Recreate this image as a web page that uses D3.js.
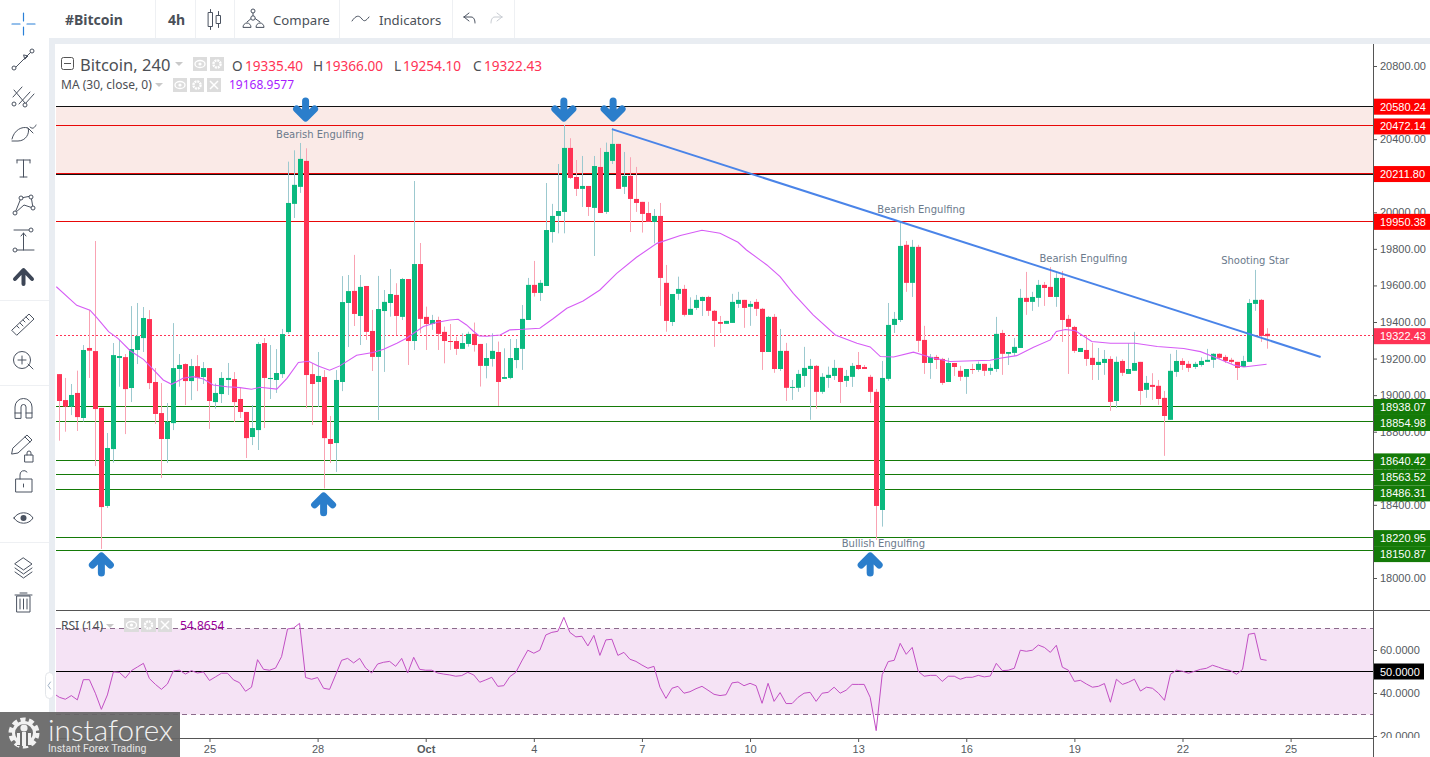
<!DOCTYPE html>
<html>
<head>
<meta charset="utf-8">
<script src="https://cdn.jsdelivr.net/npm/d3@7"></script>
<style>
  html, body { margin: 0; padding: 0; background: #fff; overflow: hidden; }
  svg { display: block; }
  text { font-family: "Liberation Sans", Arial, sans-serif; }
</style>
</head>
<body>
<svg id="chart" width="1430" height="757"></svg>
<script>
// bougies 4h (index 0 = premiere bougie visible)
const open = [
  19115,18973,18937,19012,18875,19258,19241,18930,18394,18705,
  19203,19208,19039,19247,19312,19416,19072,18902,18760,18847,
  19143,19170,19077,19159,19099,19148,18962,19006,19083,19088,
  18979,18908,18771,18809,19285,19088,19083,19115,19345,20046,
  20139,20281,19115,19072,19099,18760,18738,19072,19504,19570,
  19433,19597,19351,19209,19460,19504,19548,19428,19635,19296,
  19717,19428,19389,19411,19346,19296,19296,19253,19280,19335,
  19280,19160,19198,19236,19089,19094,19192,19253,19411,19603,
  19559,19597,19892,19980,20002,20352,20193,20128,20144,20024,
  20248,20002,20281,20374,20139,20199,20073,20057,19996,19947,
  19980,19614,19400,19554,19581,19439,19477,19515,19537,19461,
  19400,19390,19395,19499,19521,19483,19510,19472,19236,19428,
  19143,19242,19040,19040,19105,19143,19160,19018,19094,19105,
  19149,19078,19100,19165,19154,19100,19018,18372,19089,19384,
  19411,19822,19614,19811,19302,19176,19209,19198,19072,19176,
  19133,19100,19143,19138,19171,19133,19143,19340,19226,19231,
  19258,19532,19510,19532,19603,19592,19537,19641,19417,19373,
  19236,19247,19204,19165,19176,19198,18968,19187,19116,19133,
  19182,19029,19056,19051,18985,18865,19127,19187,19171,19154,
  19165,19182,19193,19226,19209,19193,19182,19154,19182,19499,
  19521,19335.40
]
const close = [
  18968,18937,19001,18880,19247,19243,18924,18388,18711,19219,
  19214,19033,19252,19323,19422,19066,18897,18760,18855,19148,
  19165,19077,19159,19094,19148,18968,19012,19094,19094,18962,
  18908,18765,18820,19280,19094,19094,19121,19334,20051,20150,
  20292,19110,19061,19105,18765,18733,19083,19509,19569,19444,
  19592,19346,19209,19471,19510,19553,19433,19635,19296,19717,
  19417,19389,19411,19335,19296,19291,19253,19285,19335,19274,
  19160,19203,19242,19072,19099,19203,19258,19417,19603,19559,
  19614,19903,19980,20007,20352,20188,20128,20144,20029,20253,
  19996,20330,20374,20128,20199,20073,20051,19991,19947,19980,
  19641,19406,19553,19581,19439,19472,19521,19537,19461,19406,
  19390,19406,19510,19521,19477,19499,19472,19236,19428,19143,
  19242,19040,19045,19116,19149,19160,19018,19100,19111,19149,
  19072,19105,19160,19143,19143,19018,18394,19094,19384,19417,
  19816,19614,19811,19297,19176,19209,19193,19067,19176,19154,
  19100,19143,19138,19171,19133,19149,19335,19226,19236,19264,
  19532,19510,19537,19603,19586,19537,19641,19411,19373,19242,
  19258,19198,19165,19182,19198,18963,19182,19122,19143,19176,
  19023,19067,19045,18979,18886,19133,19187,19165,19149,19171,
  19187,19193,19226,19204,19187,19182,19149,19187,19504,19521,
  19324,19322.43
]
const high = [
  19115,19094,19061,19134,19274,19465,19843,18930,18793,19285,
  19301,19225,19487,19504,19482,19465,19148,19066,18957,19394,
  19225,19174,19198,19219,19181,19148,19064,19126,19176,19126,
  19039,18908,18946,19290,19312,19274,19252,19362,20277,20339,
  20379,20350,19174,19236,19137,18886,19137,19651,19657,19767,
  19657,19597,19466,19652,19575,19690,19612,19641,19635,20171,
  19832,19484,19439,19429,19375,19389,19320,19338,19347,19397,
  19280,19284,19338,19293,19256,19307,19307,19493,19641,19734,
  19630,20160,20046,20264,20478,20405,20286,20308,20144,20308,
  20352,20381,20459,20374,20330,20301,20248,20057,20057,20018,
  20051,19712,19553,19648,19603,19535,19548,19539,19543,19466,
  19433,19406,19554,19565,19521,19515,19526,19477,19433,19444,
  19362,19286,19083,19138,19264,19198,19165,19120,19156,19193,
  19149,19138,19176,19236,19165,19111,19034,19187,19504,19455,
  19947,19843,19849,19822,19379,19225,19220,19204,19204,19176,
  19160,19143,19171,19184,19171,19171,19428,19357,19236,19313,
  19581,19674,19565,19630,19619,19701,19667,19679,19439,19379,
  19258,19329,19286,19258,19247,19213,19211,19196,19284,19346,
  19182,19105,19120,19083,19023,19226,19247,19202,19187,19182,
  19207,19253,19229,19229,19220,19204,19182,19215,19526,19685,
  19526,19366
]
const low = [
  18751,18800,18891,18804,18855,19094,18612,18159,18383,18631,
  19046,18787,18962,19170,19236,19033,18842,18547,18629,18809,
  19046,18946,18973,19022,19061,18815,18926,18957,19001,18853,
  18875,18656,18727,18700,18820,18979,19012,19094,19335,19969,
  20106,18929,18837,18935,18490,18629,18580,19022,19263,19378,
  19274,19302,19132,18864,19127,19429,19329,19411,19165,19247,
  19338,19247,19357,19247,19174,19247,19220,19253,19265,19238,
  19047,19092,19156,18941,19089,19087,19147,19138,19411,19539,
  19515,19597,19834,19885,19885,20182,20089,20029,19980,19761,
  19996,19991,20264,20128,20100,19892,20002,19889,19947,19830,
  19488,19347,19378,19521,19430,19439,19466,19433,19433,19264,
  19340,19390,19395,19477,19368,19379,19433,19138,19236,19122,
  19132,18968,18974,19018,19045,18865,18925,19007,19040,19083,
  18957,19045,19045,19138,19143,18957,18208,18281,19078,19340,
  19400,19565,19537,19236,19116,19089,19143,19056,19072,19105,
  19078,19007,19116,19127,19105,19111,19127,19111,19165,19215,
  19258,19439,19461,19483,19488,19537,19483,19291,19116,19231,
  19236,19160,19083,19083,19111,18914,18930,19105,19116,19133,
  18947,18985,18974,18947,18668,18865,19100,19138,19127,19143,
  19156,19182,19149,19198,19176,19171,19083,19154,19182,19461,
  19291,19254.10
]

// moyenne mobile 30 : points releves le long de la courbe
const maIndex = [-0.5,2.9,5.1,6.2,8.2,9.8,11.8,14,15.1,17.3,18.7,20.6,22.3,24,25.6,27.9,30.1,32,33.4,36.2,37.9,39.8,41.5,43.1,45,46.7,49.5,52.2,54,56.2,57.8,60.6,62.8,65,66.4,67.8,68.9,69.9,71.2,73.4,75,77.2,80,82.2,84.5,87.2,90,92.8,96.1,99.5,103.4,107,110,113,114.4,117.8,120,122.2,125.5,129.2,132.8,135,136.7,138.9,142.2,145,148.3,155,156.6,159.4,162.2,165,166,167.5,169.1,171.9,175,179.1,182.8,187.2,190,192.8,195.6,197.2,201]
const maValue = [19593,19491,19465,19425,19347,19309,19243,19196,19159,19083,19059,19092,19101,19088,19055,19046,19041,19032,19043,19033,19092,19179,19185,19159,19136,19160,19218,19233,19251,19284,19311,19375,19397,19411,19415,19384,19351,19324,19322,19329,19357,19360,19366,19418,19475,19515,19575,19666,19754,19830,19873,19902,19885,19836,19794,19712,19648,19557,19439,19329,19284,19264,19211,19209,19235,19207,19184,19191,19202,19216,19262,19302,19348,19359,19353,19293,19284,19284,19266,19255,19238,19202,19164,19154,19168.96]

// RSI 14, une valeur par bougie, la premiere tombe juste avant le bord gauche
const rsiStart = -1
const rsi = [
  39.9,
  38.0,37.1,38.8,36.8,46.2,46.2,39.9,32.4,39.1,49.8,
  49.6,47.0,50.4,52.1,53.8,46.7,44.0,41.7,44.2,50.3,
  50.6,48.8,50.4,49.3,49.8,45.8,47.5,49.2,49.2,46.1,
  44.8,40.8,42.7,55.5,51.0,50.6,51.6,56.9,69.8,70.2,
  72.4,47.2,46.4,47.2,42.2,41.7,48.4,55.2,56.1,54.0,
  56.1,51.6,49.3,53.5,54.3,54.7,52.4,56.1,49.3,56.6,
  51.0,50.6,50.6,49.3,48.8,48.4,47.8,48.1,49.6,48.4,
  45.0,46.1,47.3,43.1,43.4,47.6,49.6,54.9,59.9,58.5,
  59.9,67.0,68.2,68.7,75.2,68.2,66.1,66.4,61.9,66.8,
  57.5,64.7,65.0,57.5,58.9,55.7,54.7,53.0,51.5,52.4,
  42.7,37.5,42.2,43.1,39.9,40.6,42.0,43.1,41.3,39.4,
  38.8,39.2,44.7,45.1,43.4,44.5,43.4,35.2,44.5,36.1,
  40.2,35.1,35.1,38.0,39.9,40.3,36.1,39.9,40.3,42.7,
  39.9,41.3,44.0,44.0,44.0,38.0,22.5,48.5,54.6,55.2,
  63.1,58.0,61.2,50.1,47.8,48.2,48.2,45.4,47.8,47.8,
  46.4,47.3,47.3,48.2,47.5,47.9,53.8,50.4,50.6,51.5,
  59.9,59.4,59.9,62.3,61.2,58.9,62.2,52.0,50.6,45.4,
  45.9,44.2,42.7,43.1,44.4,35.7,46.4,44.0,45.0,46.4,
  40.9,42.7,42.2,39.9,36.6,48.7,50.6,50.1,49.2,50.1,
  51.0,51.5,52.9,52.0,51.0,50.4,48.7,51.0,67.3,67.8,
  55.7,55.2
]

// niveaux traces a la main
const redLevels = [20472.14, 20211.80, 19950.38]
const blackLevels = [20580.24, 20211.80]
const greenLevels = [18938.07, 18854.98, 18640.42, 18563.52, 18486.31, 18220.95, 18150.87]
const lastPrice = 19322.43

const priceTicks = d3.range(18000, 20801, 200)
const rsiTicks = [20, 40, 60]
const dateIndex = [7, 25, 43, 61, 79, 97, 115, 133, 151, 169, 187, 205]
const dateLabels = ['22', '25', '28', 'Oct', '4', '7', '10', '13', '16', '19', '22', '25']

// annotations : index de bougie + prix
const downArrowIndex = [41, 84, 92.2]
const downArrowPrice = [20565, 20565, 20565]
const upArrowIndex = [7, 44, 135]
const upArrowPrice = [18071, 18400, 18071]
const noteTexts = ['Bearish Engulfing', 'Bearish Engulfing', 'Bearish Engulfing', 'Shooting Star', 'Bullish Engulfing']
const noteIndex = [43.4, 143.5, 170.5, 199.1, 137.2]
const notePrice = [20405, 19994, 19727, 19716, 18168]
const trendIndex = [92, 210]
const trendPrice = [20455, 19209]

const GREEN = '#0bb97f', RED = '#ff3355', GREEN_WICK = '#9cc9cf', RED_WICK = '#f9a3b3'
const LEVEL_GREEN = '#147a08', LEVEL_RED = '#e80808'
const TEXT = '#555a60', ICON = '#4a5260'

const svg = d3.select('#chart')

const x = d3.scaleLinear().domain([0, 205]).range([59.33, 1290.6])
const y = d3.scaleLinear().domain([18000, 20800]).range([578, 66])
const yRsi = d3.scaleLinear().domain([20, 60]).range([736, 650])

// --- fond et panneaux ---
svg.append('rect').attr('width', 1430).attr('height', 757).attr('fill', '#e9edf2')
svg.append('rect').attr('width', 1430).attr('height', 38).attr('fill', '#fff')
svg.append('rect').attr('width', 49).attr('height', 757).attr('fill', '#fff')
svg.append('rect').attr('x', 55).attr('y', 44).attr('width', 1375).attr('height', 713).attr('fill', '#fff')

const defs = svg.append('defs')
defs.append('clipPath').attr('id', 'mainClip').append('rect')
  .attr('x', 56).attr('y', 44).attr('width', 1317).attr('height', 566)
defs.append('clipPath').attr('id', 'rsiClip').append('rect')
  .attr('x', 56).attr('y', 611).attr('width', 1317).attr('height', 127)
defs.append('clipPath').attr('id', 'rsiAxisClip').append('rect')
  .attr('x', 0).attr('y', 611).attr('width', 57).attr('height', 127)

// --- panneau prix ---
const main = svg.append('g').attr('clip-path', 'url(#mainClip)')

main.append('rect')
  .attr('x', 56).attr('width', 1317)
  .attr('y', y(blackLevels[0]))
  .attr('height', y(blackLevels[1]) - y(blackLevels[0]))
  .attr('fill', '#faeae7')

const levelLine = (py, color, w) => main.append('line')
  .attr('x1', 56).attr('x2', 1373)
  .attr('y1', py).attr('y2', py)
  .attr('stroke', color).attr('stroke-width', w)

blackLevels.forEach(v => levelLine(Math.round(y(v)) + 0.5, '#111', 1))
redLevels.forEach(v => levelLine(Math.floor(y(v)) + 0.5, LEVEL_RED, 1))
greenLevels.forEach(v => levelLine(Math.floor(y(v)) + 0.5, LEVEL_GREEN, 1))

// ligne de dernier prix
main.append('line')
  .attr('x1', 56).attr('x2', 1373)
  .attr('y1', Math.round(y(lastPrice)) - 0.5).attr('y2', Math.round(y(lastPrice)) - 0.5)
  .attr('stroke', RED).attr('stroke-dasharray', '2 2')

const candles = open.map((o, i) => ({ i, o, c: close[i], h: high[i], l: low[i], up: close[i] >= o }))

main.selectAll('.wick').data(candles).join('line')
  .attr('class', 'wick')
  .attr('x1', d => Math.round(x(d.i)) + 0.5).attr('x2', d => Math.round(x(d.i)) + 0.5)
  .attr('y1', d => y(d.h)).attr('y2', d => y(d.l))
  .attr('stroke', d => d.up ? GREEN_WICK : RED_WICK)

main.selectAll('.body').data(candles).join('rect')
  .attr('class', 'body')
  .attr('x', d => Math.round(x(d.i)) - 2).attr('width', 5)
  .attr('y', d => y(Math.max(d.o, d.c)))
  .attr('height', d => Math.max(1, Math.abs(y(d.o) - y(d.c))))
  .attr('fill', d => d.up ? GREEN : RED)

// moyenne mobile
main.append('path')
  .attr('d', d3.line().x(d => x(d)).y((d, i) => y(maValue[i]))(maIndex))
  .attr('fill', 'none').attr('stroke', '#d65cf5').attr('stroke-width', 1.1)

// droite de tendance
main.append('line')
  .attr('x1', x(trendIndex[0])).attr('y1', y(trendPrice[0]))
  .attr('x2', x(trendIndex[1])).attr('y2', y(trendPrice[1]))
  .attr('stroke', '#4a84e8').attr('stroke-width', 2)

// fleches
const ARROW = 'M0,-8 L0,8 M-9,0 L0,9 L9,0'
const arrow = (px, py, rot) => main.append('path')
  .attr('d', ARROW)
  .attr('transform', `translate(${px},${py}) rotate(${rot})`)
  .attr('fill', 'none').attr('stroke', '#2b7ecb').attr('stroke-width', 7)
  .attr('stroke-linecap', 'round').attr('stroke-linejoin', 'round')
downArrowIndex.forEach((d, i) => arrow(x(d), y(downArrowPrice[i]), 0))
upArrowIndex.forEach((d, i) => arrow(x(d), y(upArrowPrice[i]), 180))

noteTexts.forEach((t, i) => main.append('text')
  .attr('x', x(noteIndex[i])).attr('y', y(notePrice[i]))
  .attr('text-anchor', 'middle')
  .attr('font-size', 10).attr('fill', '#6b7a8c')
  .style('font-family', '"DejaVu Sans", sans-serif')
  .text(t))

// --- axes ---
const priceAxis = svg.append('g').attr('transform', 'translate(1373,0)')
  .call(d3.axisRight(y).tickValues(priceTicks).tickFormat(d3.format('.2f')).tickSize(4).tickPadding(3))
priceAxis.select('.domain').remove()
priceAxis.selectAll('line').attr('stroke', '#555')
priceAxis.selectAll('text').attr('fill', TEXT).attr('font-size', 11).style('font-family', '"Liberation Sans"')

// etiquettes de niveaux : on les empile pour qu'elles ne se chevauchent pas
const TAG_H = 16
const stackTags = (levels) => {
  let prev = -Infinity
  return levels.slice().sort((a, b) => b - a).map(v => {
    const py = Math.max(y(v) + 0.5, prev + TAG_H)
    prev = py
    return { v, py }
  })
}
const drawTag = (d, bg, w) => {
  const g = svg.append('g')
  g.append('rect').attr('x', 1373).attr('y', d.py - TAG_H / 2).attr('width', w).attr('height', TAG_H).attr('fill', bg)
  g.append('text').attr('x', 1380).attr('y', d.py + 4).attr('fill', '#fff').attr('font-size', 11)
    .text(d.v.toFixed(2))
}
stackTags([20580.24, 20472.14, 20211.80, 19950.38]).forEach(d => drawTag(d, '#ff0000', 57))
stackTags(greenLevels).forEach(d => drawTag(d, LEVEL_GREEN, 57))
drawTag({ v: lastPrice, py: y(lastPrice) }, RED, 57)

// --- panneau RSI ---
const rsiG = svg.append('g').attr('clip-path', 'url(#rsiClip)')
rsiG.append('rect')
  .attr('x', 56).attr('width', 1317)
  .attr('y', yRsi(70)).attr('height', yRsi(30) - yRsi(70))
  .attr('fill', '#f5e3f5')
;[70, 30].forEach(v => rsiG.append('line')
  .attr('x1', 56).attr('x2', 1373)
  .attr('y1', Math.floor(yRsi(v)) + 0.5).attr('y2', Math.floor(yRsi(v)) + 0.5)
  .attr('stroke', '#8b6a8b').attr('stroke-dasharray', '5 4'))
rsiG.append('line')
  .attr('x1', 56).attr('x2', 1373)
  .attr('y1', Math.floor(yRsi(50)) + 0.5).attr('y2', Math.floor(yRsi(50)) + 0.5)
  .attr('stroke', '#000')
rsiG.append('path')
  .attr('d', d3.line().x((d, i) => x(rsiStart + i)).y(d => yRsi(d))(rsi))
  .attr('fill', 'none').attr('stroke', '#c24fc4').attr('stroke-width', 1)

const rsiAxis = svg.append('g').attr('transform', 'translate(1373,0)').attr('clip-path', 'url(#rsiAxisClip)')
  .call(d3.axisRight(yRsi).tickValues(rsiTicks).tickFormat(d3.format('.4f')).tickSize(4).tickPadding(3))
rsiAxis.select('.domain').remove()
rsiAxis.selectAll('line').attr('stroke', '#555')
rsiAxis.selectAll('text').attr('fill', TEXT).attr('font-size', 11).style('font-family', '"Liberation Sans"')

svg.append('rect').attr('x', 1373).attr('y', yRsi(50) - 8).attr('width', 51).attr('height', 16).attr('fill', '#000')
svg.append('text').attr('x', 1380).attr('y', yRsi(50) + 4).attr('fill', '#fff').attr('font-size', 11).text('50.0000')

// separateurs et axe du temps
svg.append('line').attr('x1', 1373.5).attr('x2', 1373.5).attr('y1', 44).attr('y2', 757).attr('stroke', '#555')
svg.append('line').attr('x1', 56).attr('x2', 1430).attr('y1', 610.5).attr('y2', 610.5).attr('stroke', '#555')
svg.append('line').attr('x1', 56).attr('x2', 1373).attr('y1', 738.5).attr('y2', 738.5).attr('stroke', '#555')

const timeAxis = svg.append('g').attr('transform', 'translate(0,738)')
  .call(d3.axisBottom(x).tickValues(dateIndex).tickFormat((d, i) => dateLabels[i]).tickSize(4).tickPadding(3))
timeAxis.select('.domain').remove()
timeAxis.selectAll('line').attr('stroke', '#555')
timeAxis.selectAll('text').attr('fill', TEXT).attr('font-size', 11)
  .style('font-family', '"Liberation Sans"')
  .attr('font-weight', (d, i) => dateLabels[i] === 'Oct' ? 'bold' : 'normal')

// --- legende ---
const LEGEND_FONT = '"Noto Sans", sans-serif'
const legendText = (tx, ty, t, size, color) => svg.append('text')
  .attr('x', tx).attr('y', ty).attr('font-size', size).attr('fill', color)
  .style('font-family', LEGEND_FONT).text(t)

const grayBox = (bx, by, w, kind) => {
  svg.append('rect').attr('x', bx).attr('y', by).attr('width', w).attr('height', 14).attr('fill', '#dcdcdc')
  const cx = bx + w / 2, cy = by + 7
  if (kind === 'eye') {
    svg.append('ellipse').attr('cx', cx).attr('cy', cy).attr('rx', 5).attr('ry', 3.5)
      .attr('fill', 'none').attr('stroke', '#fff').attr('stroke-width', 1.3)
    svg.append('circle').attr('cx', cx).attr('cy', cy).attr('r', 1.6).attr('fill', '#fff')
  } else if (kind === 'gear') {
    svg.append('circle').attr('cx', cx).attr('cy', cy).attr('r', 3.6)
      .attr('fill', 'none').attr('stroke', '#fff').attr('stroke-width', 2.4).attr('stroke-dasharray', '2 0.8')
  } else {
    svg.append('path').attr('d', `M${cx - 4},${cy - 4}L${cx + 4},${cy + 4}M${cx + 4},${cy - 4}L${cx - 4},${cy + 4}`)
      .attr('stroke', '#fff').attr('stroke-width', 1.5)
  }
}
const caret = (cx, cy) => svg.append('path')
  .attr('d', `M${cx - 4},${cy - 2}L${cx + 4},${cy - 2}L${cx},${cy + 2}Z`).attr('fill', '#c9c9c9')

svg.append('rect').attr('x', 61.5).attr('y', 57.5).attr('width', 12).attr('height', 12).attr('rx', 2)
  .attr('fill', 'none').attr('stroke', '#555')
svg.append('line').attr('x1', 64).attr('x2', 71).attr('y1', 63.5).attr('y2', 63.5).attr('stroke', '#555')
legendText(80, 70.5, 'Bitcoin, 240', 16.5, '#4c4f54')
caret(179, 64)
grayBox(193, 57, 14, 'eye')
grayBox(210, 57, 14, 'gear')

const ohlcLabels = ['O', 'H', 'L', 'C']
const ohlcValues = [open[201], high[201], low[201], close[201]]
const ohlcX = [232, 313, 394, 473]
const ohlcValueX = [245, 325, 403, 484]
ohlcLabels.forEach((t, i) => {
  legendText(ohlcX[i], 70.5, t, 13.6, '#4c4f54')
  legendText(ohlcValueX[i], 70.5, ohlcValues[i].toFixed(2), 13.6, RED)
})

legendText(61, 89, 'MA (30, close, 0)', 12, '#4c4f54')
caret(159, 85)
grayBox(173, 78, 14, 'eye')
grayBox(190, 78, 14, 'gear')
grayBox(207, 78, 14, 'x')
legendText(229, 89, '19168.9577', 12, '#a81cff')

legendText(61, 630, 'RSI (14)', 12, '#4c4f54')
caret(110, 626)
grayBox(124, 618, 15, 'eye')
grayBox(141, 618, 15, 'gear')
grayBox(158, 618, 14, 'x')
legendText(180, 630, '54.8654', 12, '#990099')

// --- barre du haut ---
;[155, 195, 234, 339, 452, 514].forEach(px => svg.append('line')
  .attr('x1', px + 0.5).attr('x2', px + 0.5).attr('y1', 0).attr('y2', 38).attr('stroke', '#eef0f3'))
const topText = (tx, t, weight, size) => svg.append('text')
  .attr('x', tx).attr('y', 25).attr('font-size', size || 13.2).attr('font-weight', weight || 'normal')
  .attr('fill', '#4a5058').style('font-family', LEGEND_FONT).text(t)
topText(65, '#Bitcoin', 'bold', 14)
topText(168, '4h', 'bold', 14)
topText(273, 'Compare')
topText(379, 'Indicators')

const iconPath = (d, color, w) => svg.append('path').attr('d', d)
  .attr('fill', 'none').attr('stroke', color || ICON).attr('stroke-width', w || 1)
  .attr('stroke-linecap', 'round').attr('stroke-linejoin', 'round')
const iconDot = (cx, cy, r, color) => svg.append('circle').attr('cx', cx).attr('cy', cy).attr('r', r || 2)
  .attr('fill', '#fff').attr('stroke', color || ICON)

// bougies, compare, indicateurs, annuler, retablir
iconPath('M208.5,12.5h4v14h-4zM216.5,15.5h4v8h-4zM210.5,9.5v3M210.5,26.5v3M218.5,11.5v4M218.5,23.5v4')
iconPath('M243,27a4,4 0 0 1 8,0zM256,27a4,4 0 0 1 8,0zM247,22L253,17L260,22M253,10v6')
iconDot(253, 18, 2.2); iconDot(253, 11, 2)
iconPath('M352,21C356,15 359,15 362,19C364,22 366,21 369,17')
iconPath('M464,17L469,13M464,17L469,21M464,17H471C474,17 475,20 475,23')
iconPath('M502,17L497,13M502,17L497,21M502,17H495C492,17 491,20 491,23', '#c8ccd2')

// --- barre de gauche ---
;[300, 385, 542].forEach(py => svg.append('line')
  .attr('x1', 0).attr('x2', 49).attr('y1', py + 0.5).attr('y2', py + 0.5).attr('stroke', '#eef0f3'))

iconPath('M12,24h8M27,24h8M23.5,13v8M23.5,27v8', '#2a80d8', 1.2)
iconPath('M15,68L31,52'); iconDot(14, 68); iconDot(32, 51)
iconPath('M24,55l4,1l-3,3z', ICON)
iconPath('M13,97L22,87M19,104L30,92M25,104L34,94M14,90L25,103'); iconDot(14, 104); iconDot(25, 105)
iconPath('M12,139C14,130 22,126 28,128C30,133 26,141 18,141L12,141M28,128L33,133M30,127C33,130 35,127 36,125')
iconPath('M17,160h13M23.5,160v17M20,177h7M17,160v3M30,160v3')
iconPath('M15,213L21,198L31,196L33,208L24,205L15,213'); iconDot(15, 213); iconDot(21, 198); iconDot(31, 197); iconDot(33, 208)
iconPath('M14,230H31M14,250H34M23.5,233V250M21,236l2.5,-3l2.5,3'); iconDot(31, 230); iconDot(15, 250)
iconPath('M23.5,284V273M15,279L23.5,270L32,279', '#3d4656', 4)
iconPath('M12,330L29,314L34,319L17,335ZM17,326l2,2M20,323l3,3M23,320l2,2M26,317l3,3')
iconPath('M33,369L28,364'); svg.append('circle').attr('cx', 22).attr('cy', 360).attr('r', 8.5).attr('fill', 'none').attr('stroke', ICON)
iconPath('M18,360h8M22,356v8')
iconPath('M15,418V407a8.5,8.5 0 0 1 17,0V418H26V407a2.5,2.5 0 0 0 -5,0V418ZM15,413h6M26,413h6')
iconPath('M13,448L27,435L32,440L18,453L12,454ZM25,437l5,5')
iconPath('M25,455h8v7h-8zM27,455v-2a2,2 0 0 1 4,0v2')
iconPath('M16,479h16v13h-16zM20,479v-4a4,4 0 0 1 7,-3M23.5,484v3')
iconPath('M14,518C18,511 29,511 33,518C29,525 18,525 14,518Z')
svg.append('circle').attr('cx', 23.5).attr('cy', 518).attr('r', 3).attr('fill', ICON)
iconPath('M23.5,558L32,564L23.5,570L15,564ZM15,568L23.5,574L32,568M15,572L23.5,578L32,572')
iconPath('M17,596h13v16h-13zM15,595h17M20,593h7M20,599v10M23.5,599v10M27,599v10')

// poignee de repli
svg.append('rect').attr('x', 45.5).attr('y', 672.5).attr('width', 8).attr('height', 26).attr('rx', 4)
  .attr('fill', '#fff').attr('stroke', '#e3e6ea')
iconPath('M50.5,682L48,685.5L50.5,689', '#9fb0c4')

// --- filigrane ---
svg.append('rect').attr('x', 0).attr('y', 712).attr('width', 180).attr('height', 45)
  .attr('fill', '#666').attr('opacity', 0.93)
const logo = svg.append('g').attr('transform', 'translate(24,733)')
logo.append('circle').attr('r', 13).attr('fill', 'none').attr('stroke', '#f2f2f2')
  .attr('stroke-width', 5).attr('stroke-dasharray', '5 3.2')
logo.append('circle').attr('r', 10.5).attr('fill', 'none').attr('stroke', '#f2f2f2').attr('stroke-width', 3)
logo.append('rect').attr('x', -7).attr('y', -1).attr('width', 14).attr('height', 14).attr('fill', '#6d6d6d')
logo.append('circle').attr('cy', -5).attr('r', 3.6).attr('fill', '#f2f2f2')
logo.append('rect').attr('x', -2).attr('y', -1).attr('width', 4).attr('height', 14).attr('fill', '#f2f2f2')
logo.append('rect').attr('x', -7).attr('y', 0).attr('width', 3).attr('height', 12).attr('fill', '#f2f2f2')
logo.append('rect').attr('x', 4).attr('y', 0).attr('width', 3).attr('height', 12).attr('fill', '#f2f2f2')
svg.append('text').attr('x', 48).attr('y', 741).attr('font-size', 30).attr('font-weight', 300)
  .attr('textLength', 125).attr('lengthAdjust', 'spacingAndGlyphs')
  .attr('fill', '#f2f2f2').style('font-family', 'Lato, sans-serif').text('instaforex')
svg.append('text').attr('x', 48).attr('y', 752).attr('font-size', 10.5).attr('fill', '#e6e6e6')
  .style('font-family', 'Roboto, sans-serif').text('Instant Forex Trading')
</script>
</body>
</html>
